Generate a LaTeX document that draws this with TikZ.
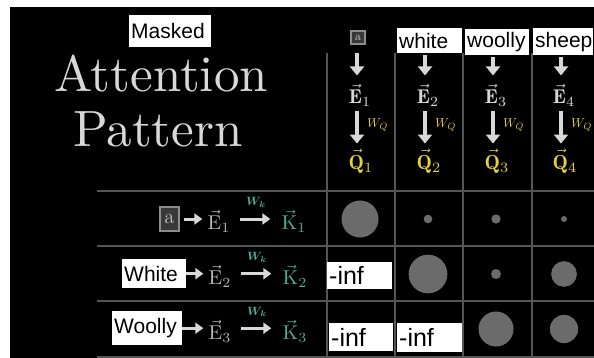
\RequirePackage{fix-cm}
\documentclass[tikz,border=0pt]{standalone}
\usepackage{amsmath}
\usepackage{fontspec}
\setsansfont{Liberation Sans}
\usetikzlibrary{arrows.meta}

\definecolor{qyellow}{HTML}{E3CF3F}
\definecolor{kteal}{HTML}{4FAE97}
\definecolor{txtgray}{HTML}{D8D8D8}
\definecolor{gridgray}{HTML}{555555}
\definecolor{dotgray}{HTML}{6B6B6B}

\tikzset{
  maskbox/.style={fill=white, anchor=north west, inner xsep=2pt, inner ysep=0pt, align=left, font=\sffamily\fontsize{21}{21}\selectfont},
  tokbox/.style={draw=gray!90, fill=black!78, line width=1.2pt, text=txtgray, inner sep=0pt},
  titletext/.style={anchor=base, text=txtgray, font=\fontsize{10}{12}\selectfont, scale=5.1},
  vecE/.style={text=txtgray, inner sep=0pt, font=\fontsize{10}{12}\selectfont, scale=2},
  vecQ/.style={text=qyellow, inner sep=0pt, font=\fontsize{10}{12}\selectfont, scale=2.05},
  vecK/.style={text=kteal, inner sep=0pt, font=\fontsize{10}{12}\selectfont, scale=2},
  fatdown/.style={draw=txtgray, line width=3.5pt, -{Triangle[width=14pt,length=9pt]}},
  fatright/.style={draw=txtgray, line width=3pt, -{Triangle[width=11pt,length=8pt]}},
  wq/.style={text=qyellow, inner sep=0pt, font=\fontsize{10}{12}\selectfont, scale=1.3},
  wk/.style={text=kteal, inner sep=0pt, font=\fontsize{10}{12}\selectfont, scale=1.2},
  grid/.style={draw=gridgray, line width=1.2pt},
  dot/.style={circle, fill=dotgray, inner sep=0pt},
}

\begin{document}
\begin{tikzpicture}[x=1pt,y=-1pt]
\useasboundingbox (0,0) rectangle (594,358);
\fill[white] (0,0) rectangle (594,358);
\fill[black] (10,7) rectangle (594,358);

% title
\node[titletext] (title1) at (161,92) {Attention};
\node[titletext] (title2) at (158,147) {Pattern};
\node[maskbox, text width=78pt, minimum height=32pt] (mask) at (129,15) {Masked};

% grid
\draw[grid] (327,53) -- (327,358);
\draw[grid] (395,53) -- (395,358);
\draw[grid] (463,53) -- (463,358);
\draw[grid] (532,53) -- (532,358);
\draw[grid] (97,191) -- (594,191);
\draw[grid] (97,246) -- (594,246);
\draw[grid] (97,301) -- (594,301);
\draw[grid] (97,357) -- (594,357);

% queries along the top
\node[tokbox, minimum width=14pt, minimum height=13pt, font=\fontsize{12}{12}\selectfont] (t1) at (358,37.5) {a};
\node[maskbox, text width=61pt, minimum height=25pt] (t2) at (397,28) {white};
\node[maskbox, text width=60pt, minimum height=26pt] (t3) at (465,29) {woolly};
\node[maskbox, text width=56pt, minimum height=27pt] (t4) at (533,28) {sheep};

\node[vecE] (e1) at (360,95) {$\vec{\mathbf{E}}_1$};
\node[vecE] (e2) at (428,95) {$\vec{\mathbf{E}}_2$};
\node[vecE] (e3) at (496,95) {$\vec{\mathbf{E}}_3$};
\node[vecE] (e4) at (564,95) {$\vec{\mathbf{E}}_4$};

\node[vecQ] (q1) at (361,161) {$\vec{\mathbf{Q}}_1$};
\node[vecQ] (q2) at (429,161) {$\vec{\mathbf{Q}}_2$};
\node[vecQ] (q3) at (497,161) {$\vec{\mathbf{Q}}_3$};
\node[vecQ] (q4) at (565,161) {$\vec{\mathbf{Q}}_4$};

\draw[fatdown, shorten <=8pt] ([xshift=-3pt]e1.north |- t1.south) -- ([xshift=-3pt,yshift=8pt]e1.north);
\draw[fatdown, shorten <=2pt] ([xshift=-3pt]e2.north |- t2.south) -- ([xshift=-3pt,yshift=8pt]e2.north);
\draw[fatdown, shorten <=2pt] ([xshift=-3pt]e3.north |- t3.south) -- ([xshift=-3pt,yshift=8pt]e3.north);
\draw[fatdown, shorten <=2pt] ([xshift=-3pt]e4.north |- t4.south) -- ([xshift=-3pt,yshift=8pt]e4.north);

\draw[fatdown, shorten <=4pt] ([xshift=-3pt]e1.south) -- node[wq, right=6pt] {$W_Q$} ([xshift=-3pt,yshift=5pt]e1.south |- q1.north);
\draw[fatdown, shorten <=4pt] ([xshift=-3pt]e2.south) -- node[wq, right=6pt] {$W_Q$} ([xshift=-3pt,yshift=5pt]e2.south |- q2.north);
\draw[fatdown, shorten <=4pt] ([xshift=-3pt]e3.south) -- node[wq, right=6pt] {$W_Q$} ([xshift=-3pt,yshift=5pt]e3.south |- q3.north);
\draw[fatdown, shorten <=4pt] ([xshift=-3pt]e4.south) -- node[wq, right=6pt] {$W_Q$} ([xshift=-3pt,yshift=5pt]e4.south |- q4.north);

% keys down the side
\node[tokbox, minimum width=19pt, minimum height=24pt, font=\fontsize{21}{21}\selectfont] (r1) at (169.5,219) {a};
\node[maskbox, text width=60pt, minimum height=29pt] (r2) at (122,259) {White};
\node[maskbox, text width=66pt, minimum height=34pt] (r3) at (112,311) {Woolly};

\node[vecE, text=txtgray!85!black] (re1) at (219,221) {$\vec{\mathrm{E}}_1$};
\node[vecE, text=txtgray!85!black] (re2) at (220,276) {$\vec{\mathrm{E}}_2$};
\node[vecE, text=txtgray!85!black] (re3) at (220,331) {$\vec{\mathrm{E}}_3$};

\node[vecK] (k1) at (294,221) {$\vec{\mathrm{K}}_1$};
\node[vecK] (k2) at (295,276) {$\vec{\mathrm{K}}_2$};
\node[vecK] (k3) at (295,331) {$\vec{\mathrm{K}}_3$};

\draw[fatright, shorten <=4pt, shorten >=5pt] (r1.east) -- (r1.east -| re1.west);
\draw[fatright, shorten >=5pt] (r2.east) -- (r2.east -| re2.west);
\draw[fatright, shorten >=5pt] (r3.east) -- (r3.east -| re3.west);

\draw[fatright, shorten <=9pt, shorten >=11pt] (re1.east |- r1) -- node[wk, above=8pt] {$\boldsymbol{W_k}$} (k1.west |- r1);
\draw[fatright, shorten <=9pt, shorten >=11pt] (re2.east |- r2.east) -- node[wk, above=8pt] {$\boldsymbol{W_k}$} (k2.west |- r2.east);
\draw[fatright, shorten <=9pt, shorten >=11pt] (re3.east |- r3.east) -- node[wk, above=8pt] {$\boldsymbol{W_k}$} (k3.west |- r3.east);

% attention weights
\node[dot, minimum size=37pt] (c11) at (360,219) {};
\node[dot, minimum size=8.7pt] (c12) at (428,219) {};
\node[dot, minimum size=9.3pt] (c13) at (496,219) {};
\node[dot, minimum size=6pt] (c14) at (564,219) {};
\node[dot, minimum size=38.7pt] (c22) at (428,274) {};
\node[dot, minimum size=10pt] (c23) at (496,274) {};
\node[dot, minimum size=25.7pt] (c24) at (564,274) {};
\node[dot, minimum size=35pt] (c33) at (496,329) {};
\node[dot, minimum size=28.3pt] (c34) at (564,329) {};

% masked entries
\node[maskbox, text width=61pt, minimum height=27pt, font=\sffamily\fontsize{25}{25}\selectfont] (m21) at (327,262) {-inf};
\node[maskbox, text width=60pt, minimum height=28pt, font=\sffamily\fontsize{25}{25}\selectfont] (m31) at (329,323) {-inf};
\node[maskbox, text width=61pt, minimum height=29pt, font=\sffamily\fontsize{25}{25}\selectfont] (m32) at (397,323) {-inf};
\end{tikzpicture}
\end{document}
